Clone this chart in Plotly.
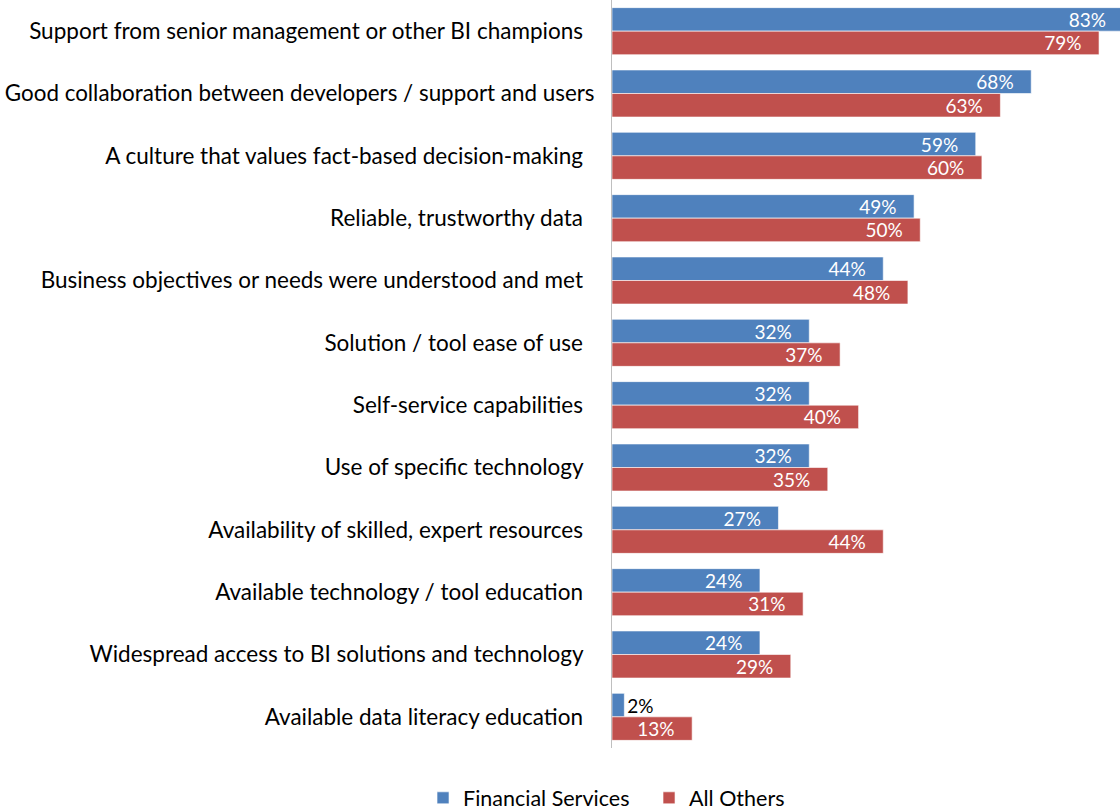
import plotly.graph_objects as go

# Success factors and share of respondents (%) per group
factors = [
    "Support from senior management or other BI champions",
    "Good collaboration between developers / support and users",
    "A culture that values fact-based decision-making",
    "Reliable, trustworthy data",
    "Business objectives or needs were understood and met",
    "Solution / tool ease of use",
    "Self-service capabilities",
    "Use of specific technology",
    "Availability of skilled, expert resources",
    "Available technology / tool education",
    "Widespread access to BI solutions and technology",
    "Available data literacy education",
]
financial_services = [83, 68, 59, 49, 44, 32, 32, 32, 27, 24, 24, 2]
all_others = [79, 63, 60, 50, 48, 37, 40, 35, 44, 31, 29, 13]

BLUE = "#4F81BD"
RED = "#C0504D"
FONT = "Lato"
PAD = "\u00a0\u00a0\u00a0"

# Labels on small bars go outside in black, the rest sit inside in white
def label_style(values):
    pos = ["outside" if v < 5 else "inside" for v in values]
    col = ["#000000" if v < 5 else "#FFFFFF" for v in values]
    return pos, col

# Trailing padding everywhere except the widest label, which is set a touch smaller
tick_text = [
    "<span style='font-size:22.4px'>" + f + "</span>" if f.startswith("Good collaboration")
    else f + "\u00a0\u00a0"
    for f in factors
]

fig = go.Figure()
for name, vals, color in [("Financial Services", financial_services, BLUE),
                          ("All Others", all_others, RED)]:
    pos, col = label_style(vals)
    fig.add_trace(go.Bar(
        name=name,
        y=factors,
        x=vals,
        orientation="h",
        marker=dict(color=color, line=dict(color="#FFFFFF", width=0.6)),
        text=[f"{v}%" + (PAD if p == "inside" else "") for v, p in zip(vals, pos)],
        textposition=pos,
        insidetextanchor="end",
        textfont=dict(family=FONT, size=19, color=col),
        constraintext="none",
        cliponaxis=True,
    ))

fig.update_layout(
    barmode="group",
    bargap=0.245,
    bargroupgap=0.0,
    width=1120,
    height=810,
    margin=dict(l=612, r=0, t=0, b=62, autoexpand=False),
    plot_bgcolor="#FFFFFF",
    paper_bgcolor="#FFFFFF",
    font=dict(family=FONT, size=22, color="#000000"),
    showlegend=True,
    legend=dict(
        orientation="h",
        xref="container",
        yref="container",
        x=0.3777,
        xanchor="left",
        y=0.015,
        yanchor="middle",
        entrywidth=181,
        entrywidthmode="pixels",
        font=dict(family=FONT, size=21.5, color="#000000"),
        traceorder="normal",
    ),
    xaxis=dict(
        range=[0, 82.4],
        showgrid=False,
        zeroline=False,
        showticklabels=False,
        showline=False,
        fixedrange=True,
    ),
    yaxis=dict(
        autorange="reversed",
        ticks="",
        showgrid=False,
        showline=True,
        linecolor="#BFBFBF",
        linewidth=1,
        ticklabelstandoff=12,
        tickmode="array",
        tickvals=factors,
        ticktext=tick_text,
        tickfont=dict(family=FONT, size=22.5, color="#000000"),
        automargin=False,
    ),
)

fig.write_html("out.html")
